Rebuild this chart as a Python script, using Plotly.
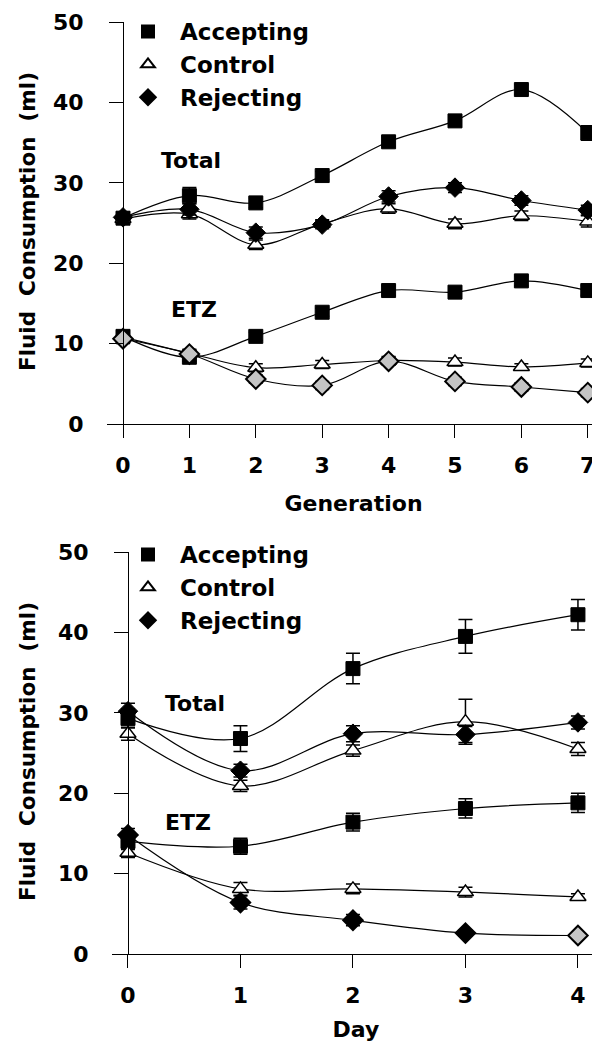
import plotly.graph_objects as go

# ---------------- data: top panel (Generation) ----------------
generation = [0, 1, 2, 3, 4, 5, 6, 7]
gen_acc_total = [25.6, 28.4, 27.5, 30.9, 35.1, 37.7, 41.6, 36.2]
gen_acc_total_err = [0.7, 1.0, 0.6, 0.5, 0.6, 0.6, 0.6, 0.9]
gen_con_total = [25.5, 26.1, 22.3, 24.9, 26.8, 24.9, 25.9, 25.2]
gen_con_total_err = [0.6, 0.6, 0.6, 0.5, 0.6, 0.6, 0.6, 0.7]
gen_rej_total = [25.7, 26.7, 23.8, 24.8, 28.3, 29.4, 27.8, 26.6]
gen_rej_total_err = [0.6, 0.7, 0.7, 0.5, 0.7, 0.6, 0.6, 0.6]
gen_acc_etz = [10.9, 8.3, 10.9, 13.9, 16.6, 16.4, 17.8, 16.6]
gen_acc_etz_err = [0.6, 0.5, 0.5, 0.5, 0.6, 0.5, 0.6, 0.6]
gen_con_etz = [10.8, 8.8, 7.0, 7.4, 7.9, 7.7, 7.1, 7.6]
gen_con_etz_err = [0.6, 0.5, 0.5, 0.5, 0.5, 0.5, 0.4, 0.5]
gen_rej_etz = [10.6, 8.7, 5.6, 4.8, 7.8, 5.3, 4.6, 3.9]
gen_rej_etz_err = [0.6, 0.5, 0.5, 0.5, 0.5, 0.5, 0.5, 0.5]

# ---------------- data: bottom panel (Day) ----------------
day = [0, 1, 2, 3, 4]
day_acc_total = [29.3, 26.8, 35.5, 39.5, 42.2]
day_acc_total_err = [1.2, 1.6, 1.9, 2.1, 1.9]
day_con_total = [27.4, 20.9, 25.3, 28.9, 25.5]
day_con_total_err = [0.8, 0.7, 0.7, 2.8, 0.8]
day_rej_total = [30.2, 22.8, 27.4, 27.3, 28.8]
day_rej_total_err = [1.0, 0.8, 1.0, 1.0, 0.8]
day_acc_etz = [14.0, 13.4, 16.4, 18.1, 18.8]
day_acc_etz_err = [1.0, 1.0, 1.1, 1.2, 1.2]
day_con_etz = [12.6, 8.1, 8.1, 7.7, 7.1]
day_con_etz_err = [0.6, 0.8, 0.6, 0.6, 0.4]
day_rej_etz = [14.8, 6.4, 4.2, 2.6, 2.3]
day_rej_etz_err = [0.8, 0.8, 0.7, 0.4, 0.3]

y_ticks = [0, 10, 20, 30, 40, 50]

FONT = dict(family="DejaVu Sans", size=22, color="black", weight="bold")
LEGFONT = dict(FONT, size=23)
TITLEFONT = dict(FONT, size=21.5)
BLACK = "black"
HATCH = "#c4c4c4"

marker_styles = {
    "Accepting": dict(symbol="square", size=14, color=BLACK, line=dict(color=BLACK, width=1)),
    "Control": dict(symbol="triangle-up", size=14, color="white", line=dict(color=BLACK, width=1.5)),
    "Rejecting": dict(symbol="diamond", size=15, color=BLACK, line=dict(color=BLACK, width=1)),
}
top_etz_diamond = dict(symbol="diamond", size=15, color=HATCH, line=dict(color=BLACK, width=2))
bottom_etz_diamond = dict(symbol="diamond", size=15,
                          color=[BLACK, BLACK, BLACK, BLACK, HATCH],
                          line=dict(color=BLACK, width=2))

# page body adds an 8 px margin; the figure is sized / placed to compensate
OFF = 8
W = 600 - OFF
H = 1042 - OFF


def px(xp):
    return (xp - OFF) / W


def py(yp):
    return 1 - (yp - OFF) / H


fig = go.Figure()


def add_series(x, y, err, name, xa, ya, legend, show_legend, marker):
    fig.add_trace(go.Scatter(
        x=x, y=y, mode="lines", xaxis=xa, yaxis=ya,
        line=dict(color=BLACK, width=1.2, shape="spline", smoothing=1.0),
        showlegend=False, hoverinfo="skip"))
    fig.add_trace(go.Scatter(
        x=x, y=y, mode="markers", name=name, xaxis=xa, yaxis=ya,
        marker=marker, legend=legend, showlegend=show_legend,
        error_y=dict(type="data", array=err, visible=True, color=BLACK,
                     thickness=1.5, width=7)))


top = [
    ("Accepting", gen_acc_total, gen_acc_total_err, gen_acc_etz, gen_acc_etz_err),
    ("Control", gen_con_total, gen_con_total_err, gen_con_etz, gen_con_etz_err),
    ("Rejecting", gen_rej_total, gen_rej_total_err, gen_rej_etz, gen_rej_etz_err),
]
for name, tot, tot_e, etz, etz_e in top:
    add_series(generation, etz, etz_e, name, "x", "y", "legend", False,
               top_etz_diamond if name == "Rejecting" else marker_styles[name])
    add_series(generation, tot, tot_e, name, "x", "y", "legend", True, marker_styles[name])

bottom = [
    ("Accepting", day_acc_total, day_acc_total_err, day_acc_etz, day_acc_etz_err),
    ("Control", day_con_total, day_con_total_err, day_con_etz, day_con_etz_err),
    ("Rejecting", day_rej_total, day_rej_total_err, day_rej_etz, day_rej_etz_err),
]
for name, tot, tot_e, etz, etz_e in bottom:
    add_series(day, etz, etz_e, name, "x2", "y2", "legend2", False,
               bottom_etz_diamond if name == "Rejecting" else marker_styles[name])
    add_series(day, tot, tot_e, name, "x2", "y2", "legend2", True, marker_styles[name])

common_x = dict(showline=True, linecolor=BLACK, linewidth=1.2, ticks="outside",
                ticklen=13, tickwidth=1.2, tickcolor=BLACK, showgrid=False,
                zeroline=False, tickfont=FONT, ticklabelstandoff=8, automargin=False)
common_y = dict(showline=True, linecolor=BLACK, linewidth=1.2, ticks="outside",
                ticklen=14, tickwidth=1.2, tickcolor=BLACK, showgrid=False,
                zeroline=False, tickfont=FONT, range=[0, 50], tickvals=y_ticks,
                ticklabelstandoff=21, anchor="free", automargin=False)

fig.update_layout(
    width=W, height=H,
    paper_bgcolor="white", plot_bgcolor="white",
    margin=dict(l=0, r=0, t=0, b=0, autoexpand=False),
    font=FONT,
    xaxis=dict(common_x, domain=[px(107), 1.0], range=[-0.241, 7.184],
               tickvals=generation, anchor="y",
               title=dict(text="Generation", font=FONT, standoff=19)),
    yaxis=dict(common_y, domain=[py(424), py(22)], position=px(123)),
    xaxis2=dict(common_x, domain=[px(112), 1.0], range=[-0.142, 4.196],
                tickvals=day, anchor="y2",
                title=dict(text="Day", font=FONT, standoff=15)),
    yaxis2=dict(common_y, domain=[py(954), py(552)], position=px(128)),
    legend=dict(x=px(116), y=py(10), xanchor="left", yanchor="top",
                font=LEGFONT, itemsizing="constant", itemwidth=54,
                bgcolor="rgba(0,0,0,0)", tracegroupgap=0),
    legend2=dict(x=px(116), y=py(533), xanchor="left", yanchor="top",
                 font=LEGFONT, itemsizing="constant", itemwidth=54,
                 bgcolor="rgba(0,0,0,0)", tracegroupgap=0),
    annotations=[
        dict(text="Total", x=1.02, y=32.8, xref="x", yref="y", showarrow=False, font=FONT),
        dict(text="ETZ", x=1.07, y=14.2, xref="x", yref="y", showarrow=False, font=FONT),
        dict(text="Total", x=0.6, y=31.2, xref="x2", yref="y2", showarrow=False, font=FONT),
        dict(text="ETZ", x=0.53, y=16.4, xref="x2", yref="y2", showarrow=False, font=FONT),
        dict(text="Fluid  Consumption  (ml)", x=px(27), y=py(222), xref="paper",
             yref="paper", xanchor="center", yanchor="middle", showarrow=False,
             textangle=-90, font=TITLEFONT),
        dict(text="Fluid  Consumption  (ml)", x=px(27), y=py(752), xref="paper",
             yref="paper", xanchor="center", yanchor="middle", showarrow=False,
             textangle=-90, font=TITLEFONT),
    ],
)

fig.write_html("out.html")
